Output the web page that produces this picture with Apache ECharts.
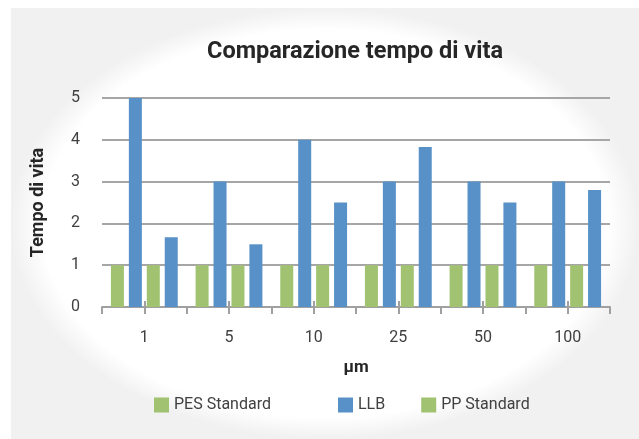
<!DOCTYPE html>
<html>
<head>
<meta charset="utf-8">
<script src="https://cdn.jsdelivr.net/npm/echarts@6/dist/echarts.min.js"></script>
<style>
  html, body { margin: 0; padding: 0; background: #ffffff; }
  #card { position: absolute; left: 11px; top: 8px; width: 628px; height: 431px;
    background: radial-gradient(ellipse closest-side at 50% 50%, #ffffff 90%, #f1f1f1 100%); }
  #chart { position: absolute; left: 0; top: 0; width: 639px; height: 439px; }
</style>
</head>
<body>
<div id="card"></div>
<div id="chart"></div>
<script>
const categories = ['1', '5', '10', '25', '50', '100'];
const pesStandard = [1, 1, 1, 1, 1, 1];
const llb = [5, 3, 4, 3, 3, 3];
const ppStandard = [1, 1, 1, 1, 1, 1];
const ppLlb = [1.67, 1.5, 2.5, 3.83, 2.5, 2.8];
const yTicks = [0, 1, 2, 3, 4, 5];

const GREEN = '#a1c371';
const BLUE = '#5891c7';
const FONT = 'Roboto';

const chart = echarts.init(document.getElementById('chart'), null, { renderer: 'canvas' });

const barCommon = { type: 'bar', barWidth: 13, barGap: '38%' };

chart.setOption({
  backgroundColor: 'transparent',
  animation: false,
  title: {
    text: 'Comparazione tempo di vita',
    left: 350, top: 35, textAlign: 'center',
    textStyle: { fontFamily: FONT, fontSize: 23.5, fontWeight: 'bold', color: '#262626' }
  },
  legend: [
    {
      data: ['PES Standard'],
      left: 149, top: 392, itemWidth: 15, itemHeight: 15, itemGap: 36,
      icon: 'rect',
      textStyle: { fontFamily: FONT, fontSize: 16, color: '#404040' }
    },
    {
      data: ['LLB', 'PP Standard'],
      left: 333, top: 392, itemWidth: 15, itemHeight: 15, itemGap: 36,
      icon: 'rect',
      textStyle: { fontFamily: FONT, fontSize: 16, color: '#404040' }
    }
  ],
  grid: { left: 102, right: 29, top: 98, bottom: 132 },
  xAxis: [
    {
      type: 'category', data: categories, boundaryGap: true,
      name: 'µm', nameLocation: 'middle', nameGap: 52,
      nameTextStyle: { fontFamily: FONT, fontSize: 17, fontWeight: 'bold', color: '#262626' },
      axisLine: { show: true, lineStyle: { color: '#a0a0a0', width: 2 } },
      axisTick: { show: true, length: 7, lineStyle: { color: '#a0a0a0', width: 2 } },
      axisLabel: { margin: 23, fontFamily: FONT, fontSize: 16, color: '#404040' }
    },
    {
      type: 'category', data: categories, boundaryGap: true, position: 'bottom', offset: -6,
      axisLine: { show: false },
      axisTick: { show: true, alignWithLabel: true, length: 13, lineStyle: { color: '#a0a0a0', width: 2 } },
      axisLabel: { show: false }
    }
  ],
  yAxis: {
    type: 'value', min: yTicks[0], max: yTicks[yTicks.length - 1], interval: 1,
    name: 'Tempo di vita', nameLocation: 'middle', nameGap: 55, nameRotate: 90,
    nameTextStyle: { fontFamily: FONT, fontSize: 18, fontWeight: 'bold', color: '#262626' },
    axisLine: { show: false },
    axisTick: { show: false },
    axisLabel: { margin: 22, fontFamily: FONT, fontSize: 16, color: '#404040' },
    splitLine: { show: true, lineStyle: { color: '#a6a6a6', width: 2 } }
  },
  series: [
    Object.assign({ name: 'PES Standard', data: pesStandard, itemStyle: { color: GREEN } }, barCommon),
    Object.assign({ name: 'LLB', data: llb, itemStyle: { color: BLUE } }, barCommon),
    Object.assign({ name: 'PP Standard', data: ppStandard, itemStyle: { color: GREEN } }, barCommon),
    Object.assign({ name: 'PP LLB', data: ppLlb, itemStyle: { color: BLUE } }, barCommon)
  ]
});
</script>
</body>
</html>
